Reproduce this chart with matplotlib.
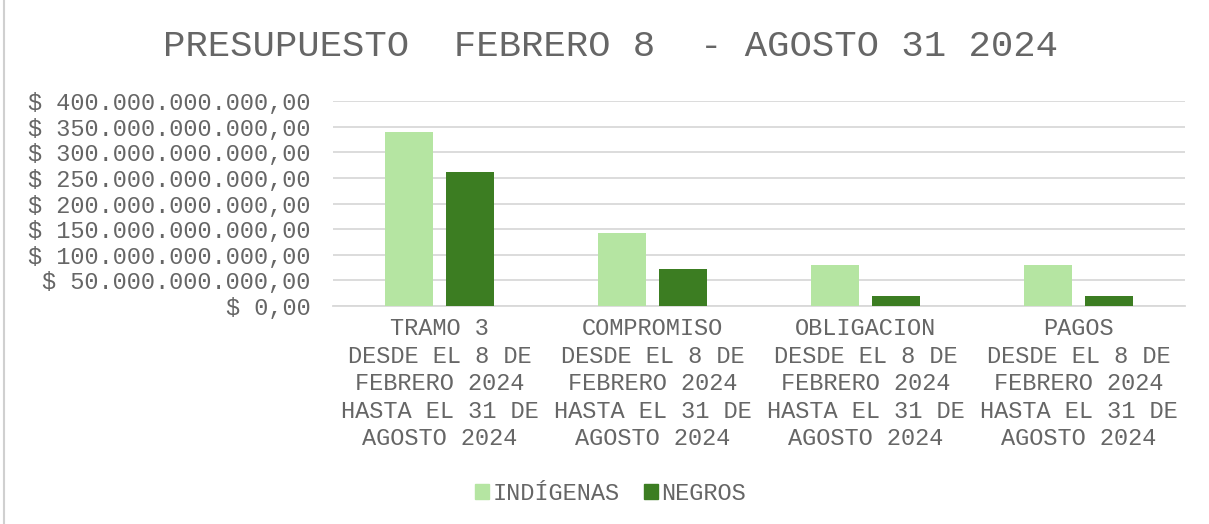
import matplotlib
matplotlib.use("Agg")
import matplotlib.pyplot as plt
from matplotlib.patches import Patch
from matplotlib.ticker import FuncFormatter, MultipleLocator
import numpy as np

categories = [
    "TRAMO 3\nDESDE EL 8 DE\nFEBRERO 2024\nHASTA EL 31 DE\nAGOSTO 2024",
    "COMPROMISO\nDESDE EL 8 DE\nFEBRERO 2024\nHASTA EL 31 DE\nAGOSTO 2024",
    "OBLIGACION\nDESDE EL 8 DE\nFEBRERO 2024\nHASTA EL 31 DE\nAGOSTO 2024",
    "PAGOS\nDESDE EL 8 DE\nFEBRERO 2024\nHASTA EL 31 DE\nAGOSTO 2024",
]
indigenas = [339.5e9, 141.8e9, 79.4e9, 79.4e9]
negros = [260.9e9, 71.6e9, 19.5e9, 19.5e9]

FONT = "Liberation Mono"
GREY = "#666666"
LIGHT = "#b5e5a2"
DARK = "#3c7d22"


def money(v, pos=None):
    s = f"{int(round(v)):,}".replace(",", ".")
    return f"$ {s},00"


fig = plt.figure(figsize=(12.09, 5.24), dpi=100)
ax = fig.add_axes([0.2754, 0.416, 0.7047, 0.3912])

x = np.arange(len(categories))
w = 0.225
ax.bar(x - 0.145, indigenas, w, color=LIGHT, zorder=3)
ax.bar(x + 0.145, negros, w, color=DARK, zorder=3)

ax.set_xlim(-0.5, 3.5)
ax.set_ylim(0, 400e9)
ax.yaxis.set_major_locator(MultipleLocator(50e9))
ax.yaxis.set_major_formatter(FuncFormatter(money))
ax.grid(axis="y", color="#d9d9d9", linewidth=1.3, zorder=0)
for s in ["top", "right", "left"]:
    ax.spines[s].set_visible(False)
ax.spines["bottom"].set_color("#d9d9d9")
ax.spines["bottom"].set_linewidth(1.3)
ax.tick_params(length=0)
ax.tick_params(axis="y", pad=16)
ax.tick_params(axis="x", pad=8)

ax.set_xticks(x)
ax.set_xticklabels(categories, fontfamily=FONT, fontsize=17, color=GREY, linespacing=1.25)
for t in ax.get_yticklabels():
    t.set_fontfamily(FONT)
    t.set_fontsize(17)
    t.set_color(GREY)

fig.text(0.505, 0.912, "PRESUPUESTO  FEBRERO 8  - AGOSTO 31 2024",
         ha="center", va="center", fontfamily=FONT, fontsize=26.8, color=GREY)

handles = [Patch(color=LIGHT, label="INDÍGENAS"), Patch(color=DARK, label="NEGROS")]
leg = fig.legend(handles=handles, loc="center", bbox_to_anchor=(0.505, 0.059), ncol=2,
                 frameon=False, prop={"family": FONT, "size": 17},
                 handlelength=0.6, handleheight=0.6, handletextpad=0.15, columnspacing=1.0)
for t in leg.get_texts():
    t.set_color(GREY)

# screenshot frame
fig.add_artist(plt.Line2D([0.003, 0.003], [0, 1], transform=fig.transFigure, color="#d0d0d0", linewidth=1.5))

fig.savefig("out.png", dpi=100)
